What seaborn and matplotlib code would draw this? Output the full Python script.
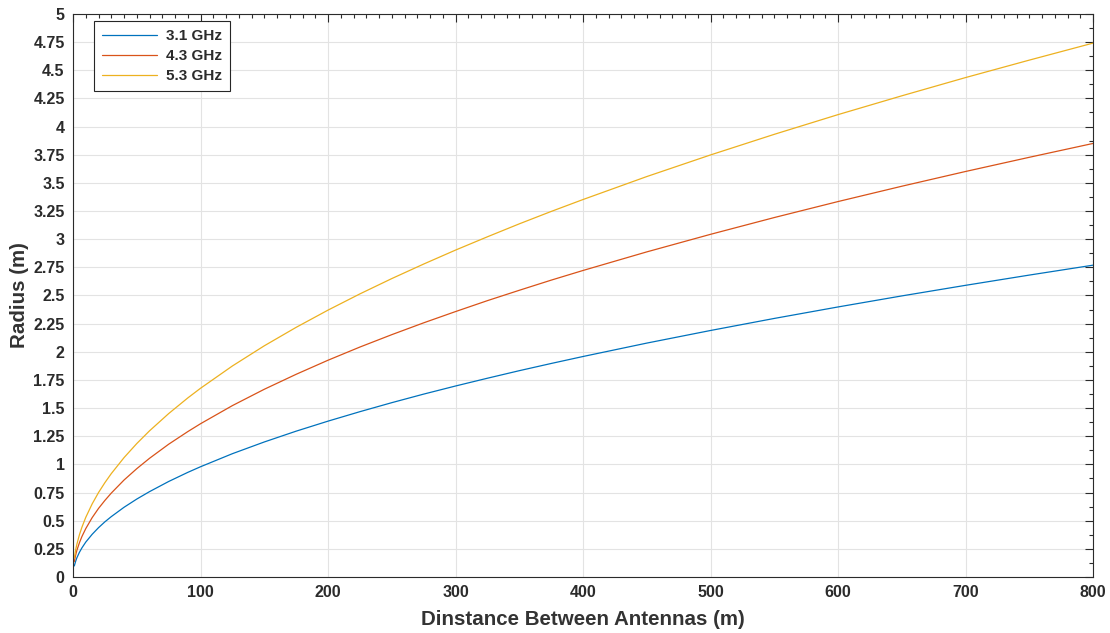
import matplotlib
matplotlib.use("Agg")
import matplotlib.pyplot as plt
import seaborn as sns
import pandas as pd
from matplotlib.ticker import MultipleLocator

distance = [1, 2, 3, 5, 7, 10, 15, 20, 25, 30, 40, 50, 60, 75, 90, 100, 125, 150,
            175, 200, 225, 250, 275, 300, 325, 350, 375, 400, 450, 500, 550, 600,
            650, 700, 750, 800]
r_31 = [0.098, 0.138, 0.170, 0.219, 0.259, 0.310, 0.379, 0.438, 0.490, 0.536,
        0.619, 0.692, 0.758, 0.848, 0.929, 0.979, 1.095, 1.199, 1.295, 1.384,
        1.468, 1.548, 1.624, 1.696, 1.765, 1.832, 1.896, 1.958, 2.077, 2.189,
        2.296, 2.398, 2.496, 2.590, 2.681, 2.769]
r_43 = [0.136, 0.192, 0.236, 0.304, 0.360, 0.430, 0.527, 0.609, 0.680, 0.745,
        0.861, 0.962, 1.054, 1.179, 1.291, 1.361, 1.522, 1.667, 1.800, 1.925,
        2.042, 2.152, 2.257, 2.357, 2.454, 2.546, 2.636, 2.722, 2.887, 3.043,
        3.192, 3.334, 3.470, 3.601, 3.727, 3.850]
r_53 = [0.168, 0.237, 0.290, 0.375, 0.443, 0.530, 0.649, 0.750, 0.838, 0.918,
        1.060, 1.185, 1.298, 1.451, 1.590, 1.676, 1.874, 2.053, 2.217, 2.370,
        2.514, 2.650, 2.779, 2.903, 3.021, 3.136, 3.246, 3.352, 3.556, 3.748,
        3.931, 4.106, 4.273, 4.435, 4.590, 4.741]
series_labels = ["3.1 GHz", "4.3 GHz", "5.3 GHz"]
colors = ["#0072BD", "#D95319", "#EDB120"]

df = pd.concat([
    pd.DataFrame({"d": distance, "r": vals, "f": lab})
    for vals, lab in zip([r_31, r_43, r_53], series_labels)
])

sns.set_style("white")
plt.rcParams["font.family"] = ["Liberation Sans", "DejaVu Sans"]
plt.rcParams["font.weight"] = "bold"

fig = plt.figure(figsize=(11.1, 6.33), dpi=100)
ax = fig.add_axes([0.0658, 0.0885, 0.919, 0.8895])

sns.lineplot(data=df, x="d", y="r", hue="f", palette=colors, linewidth=0.9,
             ax=ax, legend=True)

ax.set_xlim(0, 800)
ax.set_ylim(0, 5)
ax.xaxis.set_major_locator(MultipleLocator(100))
ax.xaxis.set_minor_locator(MultipleLocator(10))
ax.yaxis.set_major_locator(MultipleLocator(0.25))
ax.yaxis.set_minor_locator(MultipleLocator(0.125))

def fmt(v, pos):
    return f"{v:.2f}".rstrip("0").rstrip(".")
ax.yaxis.set_major_formatter(plt.FuncFormatter(fmt))

ax.grid(True, which="major", color="#e3e3e3", linewidth=0.8)
ax.set_axisbelow(True)
tc = "#2b2b2b"
ax.tick_params(which="both", direction="in", top=True, right=True,
               colors=tc, labelcolor=tc, width=0.8)
ax.tick_params(which="major", length=6, labelsize=11.5, pad=6)
ax.tick_params(which="minor", length=3)
for lab in ax.get_xticklabels() + ax.get_yticklabels():
    lab.set_fontweight("bold")
for sp in ax.spines.values():
    sp.set_color(tc)
    sp.set_linewidth(0.8)

ax.set_xlabel("Dinstance Between Antennas (m)", fontsize=14.8, fontweight="bold",
              color="#333333", labelpad=7)
ax.set_ylabel("Radius (m)", fontsize=14.8, fontweight="bold", color="#333333",
              labelpad=3)

leg = ax.legend(loc="upper left", bbox_to_anchor=(0.021, 0.987), borderaxespad=0,
                fancybox=False, edgecolor="#262626", framealpha=1,
                prop={"weight": "bold", "size": 11}, handlelength=3.6,
                borderpad=0.5, labelspacing=0.4, handletextpad=0.6)
leg.get_frame().set_linewidth(0.8)
for t in leg.get_texts():
    t.set_color(tc)

fig.savefig("out.png", dpi=100)
